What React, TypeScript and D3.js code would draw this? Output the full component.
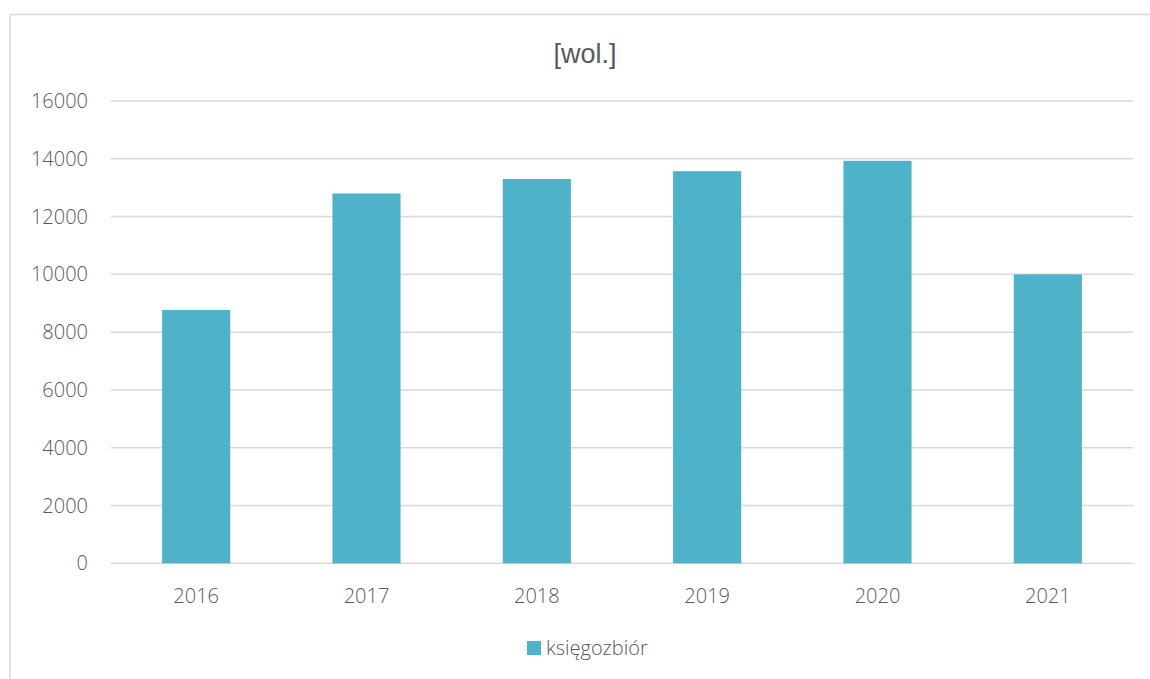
import React from "react";
import * as d3 from "d3";

const categories = ["2016", "2017", "2018", "2019", "2020", "2021"];
const values = [8770, 12800, 13300, 13570, 13930, 10000];
const yTicks = [0, 2000, 4000, 6000, 8000, 10000, 12000, 14000, 16000];
const seriesName = "księgozbiór";
const title = "[wol.]";

const W = 1150;
const H = 679;
const FONT = "'Open Sans', 'DejaVu Sans', sans-serif";
const TEXT = "#595959";
const GRID = "#d9d9d9";
const BAR = "#4eb3c8";

export default function App() {
  const x = d3.scaleBand<string>().domain(categories).range([111, 1133]).paddingInner(0.6).paddingOuter(0.3);
  const y = d3.scaleLinear().domain([0, 16000]).range([563.3, 101]);

  return (
    <div style={{ position: "absolute", left: 0, top: 0 }}>
      <svg width={W} height={H} style={{ display: "block" }}>
        <rect x={0} y={0} width={W} height={H} fill="#fff" />
        <line x1={10} x2={W} y1={14.5} y2={14.5} stroke={GRID} strokeWidth={1.5} />
        <line x1={10} x2={10} y1={14.5} y2={H} stroke={GRID} strokeWidth={1.5} />
        <text x={585} y={63} textAnchor="middle" fontFamily="'Liberation Sans', Arial, sans-serif" fontSize={27} fill={TEXT}>
          {title}
        </text>
        {yTicks.map((t) => (
          <g key={t}>
            <line x1={111} x2={1133} y1={y(t)} y2={y(t)} stroke={GRID} strokeWidth={1.5} />
            <text x={88} y={y(t) + 7} textAnchor="end" fontFamily={FONT} fontWeight={300} fontSize={20} fill={TEXT}>
              {t}
            </text>
          </g>
        ))}
        {categories.map((c, i) => (
          <g key={c}>
            <rect x={x(c)} y={y(values[i])} width={x.bandwidth()} height={y(0) - y(values[i])} fill={BAR} />
            <text x={(x(c) as number) + x.bandwidth() / 2} y={603} textAnchor="middle" fontFamily={FONT} fontWeight={300} fontSize={20} fill={TEXT}>
              {c}
            </text>
          </g>
        ))}
        <rect x={527} y={641} width={14} height={14} fill={BAR} />
        <text x={546} y={655} fontFamily={FONT} fontWeight={300} fontSize={20} fill={TEXT}>
          {seriesName}
        </text>
      </svg>
    </div>
  );
}
